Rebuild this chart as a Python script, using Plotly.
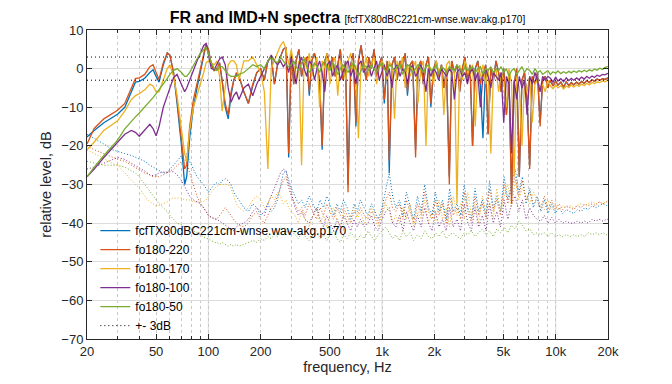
import plotly.graph_objects as go

# ---------- frequency grids ----------
FR_FREQ_HZ = [20, 22, 25, 28, 30, 33, 36, 38, 40, 43,
              46, 48, 50, 52, 55, 58, 60, 63, 66, 70,
              73, 75, 78, 82, 86, 90, 94, 97, 100, 104,
              108, 112, 116, 120, 125, 130, 135, 140, 145, 150,
              160, 170, 180, 190, 200, 210, 220, 230, 240, 250,
              260, 270, 280, 290,
              300, 310, 320, 332, 344, 356, 368, 381, 394, 408,
              422, 437, 452, 468, 484, 501, 519, 537, 556, 575,
              595, 616, 637, 660, 683, 707, 731, 757, 783, 811,
              839, 868, 899, 930, 963, 996, 1030, 1070, 1100, 1140,
              1180, 1220, 1270, 1310, 1360, 1400, 1450, 1500, 1560, 1610,
              1670, 1730, 1790, 1850, 1910, 1980, 2050, 2120, 2200, 2270,
              2350, 2440, 2520, 2610, 2700, 2800, 2900, 3000, 3100, 3210,
              3320, 3440, 3560, 3680, 3810, 3950, 4080, 4230, 4380, 4530,
              4690, 4850, 5020, 5200, 5380, 5570, 5760, 5960, 6170, 6390,
              6610, 6840, 7080, 7330, 7590, 7850, 8130, 8410, 8700, 9010,
              9320, 9650, 9990, 10300, 10700, 11100, 11500, 11900, 12300, 12700,
              13200, 13600, 14100, 14600, 15100, 15600, 16200, 16700, 17300, 17900,
              18600, 19200, 20000]

IMD_FREQ_HZ = [20, 22, 25, 28, 30, 33, 36, 38, 40, 43,
               46, 48, 50, 52, 55, 58, 60, 63, 66, 70,
               73, 75, 78, 82, 86, 90, 94, 97, 100, 104,
               108, 112, 116, 120, 125, 130, 135, 140, 145, 150,
               160, 170, 180, 190, 200, 210, 220, 230, 240, 250,
               260, 270, 280, 290,
               300, 315, 330, 345, 360, 380, 400, 420, 440, 460,
               480, 500, 525, 550, 575, 600, 630, 660, 690, 720,
               750, 790, 830, 870, 910, 950, 1000, 1050, 1100, 1150,
               1200, 1260, 1320, 1380, 1450, 1520, 1600, 1680, 1760, 1850,
               1940, 2030, 2130, 2230, 2340, 2450, 2570, 2700, 2830, 2970,
               3120, 3270, 3430, 3600, 3780, 3970, 4160, 4370, 4580, 4810,
               5050, 5300, 5560, 5840, 6130, 6430, 6750, 7090, 7440, 7810,
               8200, 8600, 9030, 9480, 9950, 10450, 10970, 11500, 12100, 12700,
               13300, 14000, 14700, 15400, 16200, 17000, 17800, 18700, 19600, 20000]

# ---------- frequency responses (dB) ----------
FR_TX80 = [-17.7, -16, -14, -12.5, -11.8, -10, -6, -3.5, -3.3, -2.5,
           -1, -0.3, -2, -3.5, 1, 4, 3.5, -1, -9, -20,
           -30, -28, -18, -10, -5, -1, 3.5, 6.2, 5, 1,
           -0.5, 0, 1.5, -3, -10, -13, -7, -3, -1.5, -2,
           -6, -9, -4.5, -1, 0, -3, 2, 3, -4, 1,
           3, 5, 5.5, -23,
           4, -4, 2, 5, -2, 1, 3, -7, 2, 4,
           1, -3, -21, 2, 4, 0, 3, -2, 1, 5,
           -3, 2, -30, 1, 4, -15, 2, 6, 1, -3,
           3, 0, 5, -2, 1, 3, -9, 2, -27, 1,
           3, -3, 2, 0, 4, -7, 1, 2, -21, 0,
           2, -4, 1, 3, -10, 0, 2, -2, 1, -5,
           0, -28, 2, -1, 1, -6, 0, 3, -3, 1,
           -20, 0, 2, -4, -18, 1, -17, 0, -3, 2,
           -1, -6, 0, -12, -2, -33, -4, 0, -28, -3,
           -1, -8, -25, -2, -4, -1, -14, -3, -2, -5,
           -3, -4.5, -3.2, -4.3, -3.5, -4.8, -3.4, -4.4, -3.6, -4.2,
           -3.5, -4, -3.3, -3.8, -3.1, -3.6, -2.9, -3.3, -2.7, -3,
           -2.6, -2.8, -2.4]

FR_FO220 = [-19.5, -15.5, -13, -11.5, -10.8, -9, -5, -2.6, -2.4, -1.5,
            0.5, 1.0, -1.0, -2.8, 1.5, 4.1, 3.5, -1, -8, -18,
            -26, -25, -15, -8, -4, 0, 4, 6.5, 5, 1,
            -0.5, 0, 1.5, -3, -9, -12, -6, -3, -1, -2,
            -6, -9, -4, -1, 0, -3, 2, 3, -4, 1,
            3, 5, 5.5, -22,
            4, -4, 2, 5, -2, 1, 3, -6, 2, 4,
            1, -3, -20, 2, 4, 0, 3, -2, 1, 5,
            -3, 2, -32, 1, 4, -14, 2, 6, 1, -3,
            3, 0, 5, -2, 1, 3, -8, 2, -24, 1,
            3, -3, 2, 0, 4, -6, 1, 2, -23, 0,
            2, -4, 1, 3, -9, 0, 2, -2, 1, -5,
            0, -30, 2, -1, 1, -6, 0, 3, -3, 1,
            -20, 0, 2, -4, -1, 1, -17, 0, -3, 2,
            -1, -6, 0, -12, -2, -35, -4, 0, -28, -3,
            -1, -8, -26, -2, -4, -1, -15, -3, -2, -5,
            -3, -4.5, -3.2, -4.3, -3.5, -4.8, -3.4, -4.4, -3.6, -4.2,
            -3.5, -4, -3.3, -3.8, -3.1, -3.6, -2.9, -3.3, -2.7, -3,
            -2.6, -2.8, -2.4]

FR_FO170 = [-21, -19, -16, -14.5, -13.5, -11, -8, -7, -6.5, -5.5,
            -4, -4.5, -6, -6, -3, 0, 1, -2, -7, -15,
            -22, -24, -16, -10, -7, -4, -1, 1.5, 2, 1.5,
            1, 2, -2, -11, -5, 1, 2, 2, 1, -3,
            2, 2, 3, 1, -1, -6, -26, 0, 2, 4,
            6, 7, 5, 1,
            5, 1, -3, 2, -25, 3, 0, 4, -2, 1,
            3, -10, 2, 0, 4, -4, 1, 3, -7, 2,
            0, -3, 2, 4, -1, 1, -18, 2, 0, 3,
            -2, 1, 3, -4, 0, 2, 1, -3, 2, 0,
            -13, 2, 0, 3, -5, 1, -2, 0, 2, -9,
            0, 2, -20, 1, 0, -4, 2, -1, 0, -12,
            1, 2, -2, 0, -35, 1, -3, 2, 0, -2,
            1, -15, 0, -2, 1, -4, 0, -22, -1, 0,
            -6, -1, -3, -10, 0, -4, -28, -2, -5, -20,
            -3, -6, -2, -14, -4, -3, -5, -4, -6, -3,
            -4.5, -5.2, -4.2, -5, -4.4, -5.3, -4.5, -4.9, -4.2, -4.8,
            -4.2, -4.6, -4, -4.4, -3.8, -4.2, -3.6, -3.9, -3.4, -3.6,
            -3.2, -3.4, -3]

FR_FO100 = [-28, -26, -23, -20.5, -19, -17, -16, -16.5, -17.5, -16,
            -14.4, -15.5, -17.4, -15, -10, -7, -5, -2.3, -1.5, -4,
            -6, -5, -3, 0, 2, 4, 6, 6.5, 4, 0,
            -0.3, 1, 2.5, 3, 1, -5, -8.7, -7, -6, -8,
            -5, -4, -7, -4, -2, 0, 2, 3.5, 2, 1,
            2, 0.5, 1.5, -1,
            3, -1, -4, 1, 3, 0, -2, 2, 1, -3,
            0, 2, -1, -6, 1, 2, -2, 0, 1, -3,
            -1, 1, 2, -2, 0, -4, 1, 2, -1, 0,
            1, -2, 0, 2, -3, -1, 1, -2, 0, -5,
            0, 1, -2, 0, -1, -4, 0, 1, -2, -1,
            1, -1, -6, 0, -2, 0, -1, -3, 0, -1,
            -2, 0, -1, -8, -1, 0, -2, -1, -4, -1,
            0, -3, -1, -10, -2, 0, -2, -5, -1, -2,
            -3, -1, -14, -2, -4, -22, -3, -8, -2, -5,
            -3, -12, -2, -4, -1, -3, -6, -2, -3, -2,
            -2.5, -3.5, -2.2, -3.2, -2.6, -3.4, -2.4, -3.1, -2.5, -3,
            -2.4, -2.9, -2.2, -2.7, -2, -2.5, -1.9, -2.3, -1.7, -2,
            -1.5, -1.6, -1.2]

FR_FO50 = [-28, -25.5, -22.5, -20, -18.5, -15.6, -13.5, -12.5, -11.5, -10,
           -8.5, -7.5, -6.5, -5.5, -4, -2.5, -1.5, -0.5, 0, -1,
           -2, -2, -1, 1, 2.5, 4, 5, 5.5, 4, 1.5,
           0, -0.5, 0.5, 0.5, -0.5, -1.5, -2, -2, -2, -1.5,
           -1, 0, 1, 0.5, 1, 0, 2, 3, 2, 1.5,
           3, 2, 1, 0.5,
           1, 2, 0.5, -0.5, 1.5, 2.5, 1, -1, 0, 1.5,
           0.5, -1, 1, 2, 0, -0.5, 1.5, 0.5, -1.5, 0,
           1, 0, -1, 0.5, 1.5, 0, -2, -0.5, 1, 0.5,
           -0.5, 1, 0, -1, 0.5, 1.5, 0, -1, 1, 0.5,
           -0.5, 0.5, 1, -1.5, 0, 1, 0.5, -1, 0, 1,
           0, -1, 0.5, 1, -0.5, 0, 1, -1.5, 0.5, 0,
           -1, 0.5, 0, -0.5, 1, 0, -1, 0.5, -0.5, 0,
           0.5, -1, 0, 0.5, -1.5, 0, -0.5, 0.5, -1, 0,
           -0.5, 0.5, -1, 0, -2, -0.5, 0, -1.5, -0.5, 0.5,
           -1, 0, -0.5, -1.5, 0, -1, -0.5, -1.5, -1, -0.5,
           -1.5, -0.8, -1.2, -0.6, -1.3, -0.8, -1.2, -0.7, -1.1, -0.6,
           -1, -0.5, -0.9, -0.4, -0.8, -0.3, -0.6, -0.1, -0.4, 0.1,
           -0.2, 0.3, 0.5]

# ---------- IMD+N spectra (dB) ----------
IMD_TX80 = [-17, -18, -19.5, -21, -21.5, -22, -22.5, -23, -23.5, -24,
            -25, -25.5, -26, -26.5, -27, -27, -26, -25, -24, -22.5,
            -21.5, -22, -24, -26, -28, -29, -30, -31, -32, -31,
            -30, -29.5, -30, -29, -28.5, -29, -30, -32, -33, -34,
            -36, -37, -35, -36, -38, -37, -35, -37, -36, -34,
            -30, -27, -26.5, -29,
            -31, -33, -35, -34, -36, -33, -35, -37, -34, -36,
            -33, -35, -38, -35, -37, -34, -36, -39, -35, -37,
            -34, -36, -38, -35, -37, -39, -36, -31, -27, -33,
            -36, -34, -38, -32, -36, -39, -33, -37, -30, -36,
            -38, -32, -37, -34, -39, -31, -37, -35, -38, -30,
            -36, -39, -31, -37, -34, -38, -29, -36, -33, -37,
            -28, -34, -30, -26, -32, -28, -35, -31, -36, -33,
            -37, -34, -37.5, -35, -37.5, -36, -37.5, -36.5, -37, -37.5,
            -36.5, -37, -36, -36.5, -35.5, -36, -35.5, -35, -35.5, -35]

IMD_FO220 = [-20, -21, -22, -23, -23.5, -24, -25, -25.5, -26, -27,
             -27.5, -28, -28, -28, -27.5, -27, -26.5, -26, -25, -24,
             -23.5, -24, -27, -30, -33, -35, -36, -37, -38, -38.5,
             -39, -39, -38, -37, -36, -37, -38, -39, -40, -40.5,
             -41, -40, -38, -37, -39, -40, -38, -36, -35, -33,
             -31, -29, -28, -31,
             -33, -35, -37, -36, -38, -35, -37, -39, -36, -38,
             -35, -37, -39, -36, -38, -36, -38, -40, -37, -38,
             -36, -38, -39, -37, -38, -40, -37, -34, -32, -36,
             -37, -35, -39, -34, -37, -40, -35, -38, -32, -37,
             -39, -34, -38, -35, -40, -33, -38, -36, -39, -32,
             -37, -40, -33, -38, -35, -39, -31, -37, -34, -38,
             -30, -35, -31, -28, -33, -29, -34, -32, -35, -34,
             -36, -33, -36.5, -34, -36.5, -35, -36.5, -35.5, -36, -36.5,
             -35.5, -36, -35, -35.5, -35, -35.5, -34.5, -35, -34.5, -34.5]

IMD_FO170 = [-21, -22, -23.5, -24.5, -25, -27, -29, -30, -31, -33,
             -34.5, -35, -35.5, -35.5, -35, -34.5, -34, -33.5, -33.5, -33.5,
             -34, -34, -34, -34.5, -34.5, -34.5, -34.4, -34, -33, -32,
             -31, -30.5, -30, -30, -30, -30, -31, -33, -35, -36,
             -37, -36, -34, -33, -34, -36, -35, -33, -34, -32,
             -33, -35, -34, -36,
             -37, -38, -40, -37, -39, -41, -38, -36, -40, -38,
             -41, -38, -36, -39, -41, -37, -40, -38, -36, -39,
             -37, -40, -38, -36, -39, -41, -38, -35, -37, -40,
             -38, -40, -36, -39, -35, -41, -37, -39, -34, -40,
             -37, -40, -34, -39, -36, -41, -33, -38, -35, -39,
             -32, -38, -35, -40, -33, -37, -35, -39, -31, -37,
             -33, -30, -36, -29, -34, -31, -33, -35, -32, -34,
             -35, -36.5, -34, -36.5, -35, -36.5, -35.5, -36, -35.5, -36,
             -35.5, -35, -35.5, -35, -34.5, -35, -34.5, -35, -34.5, -34]

IMD_FO100 = [-26, -25.5, -24.5, -23.5, -23, -23.5, -24.5, -25, -25.5, -26.5,
             -27.5, -27.7, -27.5, -27, -26.8, -26.7, -26.7, -26.7, -27.5, -29,
             -30.5, -31.5, -33, -34, -34.5, -35, -36, -37, -38, -38.5,
             -38.7, -39, -39.5, -40, -40.5, -41, -41.5, -42, -41, -40.5,
             -40, -39, -37, -36, -37, -38, -35, -33, -31, -29,
             -27, -26, -26.4, -30,
             -32, -36, -38, -37, -39, -40, -38, -36, -39, -41,
             -38, -40, -42, -39, -41, -38, -40, -42, -39, -41,
             -39, -41, -40, -38, -41, -42, -39, -37, -36, -40,
             -41, -38, -42, -37, -40, -42, -38, -41, -36, -40,
             -42, -37, -41, -39, -42, -36, -41, -39, -42, -35,
             -40, -42, -36, -41, -38, -42, -35, -40, -37, -41,
             -34, -39, -35, -33, -37, -34, -39, -36, -38, -39,
             -39.5, -38, -40, -38.5, -40, -39, -40, -39.5, -40, -40,
             -39.5, -40, -39.5, -40, -39, -39.5, -39, -39.5, -39, -39]

IMD_FO50 = [-24, -24.5, -25, -25, -25, -25.5, -26.5, -27, -28, -30,
            -32, -33, -34, -35, -36, -37, -38, -39, -40, -40.5,
            -41, -41, -41.5, -42, -42.5, -43, -43.5, -44, -44, -44.5,
            -45, -45, -45.5, -45, -45.5, -46, -45.5, -46, -45.5, -46,
            -45.5, -45, -44.5, -45, -44, -44.5, -43.5, -44, -43, -43.5,
            -42.5, -43, -42, -42.5,
            -42, -43, -44, -42.5, -43.5, -44.5, -43, -42, -44, -43,
            -44.5, -43, -42, -44, -45, -43, -44, -42.5, -43.5, -44.5,
            -43, -44, -42, -43.5, -44.5, -43, -42, -41, -42.5, -44,
            -43, -44.5, -42, -43.5, -42.5, -44.5, -43, -44, -42, -43.5,
            -44, -42.5, -43.5, -42, -44, -43, -42.5, -43.5, -44, -42.5,
            -43, -42, -43.5, -42.5, -41.5, -43, -42, -43.5, -41.5, -42.5,
            -41, -42.5, -40.5, -41.5, -39.5, -40.5, -42, -41.5, -43, -42.5,
            -43, -42.5, -43.5, -42.5, -43.5, -43, -43.5, -43, -43.5, -43,
            -43.5, -43, -43.5, -42.5, -43, -42.5, -43, -42.5, -43, -42.8]

SERIES_NAMES = ["fcfTX80dBC221cm-wnse.wav-akg.p170", "fo180-220", "fo180-170",
                "fo180-100", "fo180-50"]
FR_DATA = [FR_TX80, FR_FO220, FR_FO170, FR_FO100, FR_FO50]
IMD_DATA = [IMD_TX80, IMD_FO220, IMD_FO170, IMD_FO100, IMD_FO50]
COLORS = ["#0072BD", "#D95319", "#EDB120", "#7E2F8E", "#77AC30"]
LIMITS_DB = [3, -3]
LIMIT_NAME = "+- 3dB"

X_TICKS = [20, 50, 100, 200, 500, 1000, 2000, 5000, 10000, 20000]
X_TICK_TEXT = ["20", "50", "100", "200", "500", "1k", "2k", "5k", "10k", "20k"]
X_MINOR = [30, 40, 60, 70, 80, 90, 300, 400, 600, 700, 800, 900,
           3000, 4000, 6000, 7000, 8000, 9000]
X_DECADES = [100, 1000, 10000]

FONT = "Liberation Sans, Arial, sans-serif"
INK = "#262626"

fig = go.Figure()

for vals, col in zip(IMD_DATA, COLORS):
    fig.add_trace(go.Scatter(x=IMD_FREQ_HZ, y=vals, mode="lines", showlegend=False,
                             line=dict(color=col, width=1, dash="1px,2px"),
                             hoverinfo="skip"))

for name, vals, col in zip(SERIES_NAMES, FR_DATA, COLORS):
    fig.add_trace(go.Scatter(x=FR_FREQ_HZ, y=vals, mode="lines", name=name,
                             line=dict(color=col, width=1.3)))

lim_x, lim_y = [], []
for lv in LIMITS_DB:
    lim_x += [FR_FREQ_HZ[0], FR_FREQ_HZ[-1], None]
    lim_y += [lv, lv, None]
fig.add_trace(go.Scatter(x=lim_x, y=lim_y, mode="lines", name=LIMIT_NAME,
                         line=dict(color="#000000", width=1, dash="1px,3px")))

for d in X_DECADES:
    fig.add_shape(type="line", xref="x", yref="paper", x0=d, x1=d, y0=0, y1=1,
                  line=dict(color="#dcdcdc", width=1), layer="below")

# the page body has an 8px margin, so the figure is sized to fit inside it
W, H = 664, 376
fig.update_layout(
    width=W, height=H,
    margin=dict(l=79, r=64, t=22, b=42),
    paper_bgcolor="white", plot_bgcolor="white",
    font=dict(family=FONT, size=13, color=INK),
    title=dict(text="<b>FR and IMD+N spectra</b> <span style='font-size:10px'>[fcfTX80dBC221cm-wnse.wav:akg.p170]</span>",
               x=(79 + 600) / 2 / W, xanchor="center", y=1 - 9 / H, yanchor="middle",
               font=dict(family=FONT, size=16, color="#000000")),
    legend=dict(x=0.016, xanchor="left", y=0.197, yanchor="middle",
                bgcolor="rgba(0,0,0,0)", borderwidth=0,
                font=dict(family=FONT, size=12, color="#000000"),
                tracegroupgap=0),
    showlegend=True,
)

fig.update_xaxes(type="log", range=[1.30103, 4.30103],
                 tickvals=X_TICKS, ticktext=X_TICK_TEXT,
                 showgrid=True, gridcolor="#c8c8c8", griddash="dot", gridwidth=1,
                 ticks="inside", ticklen=5, tickcolor=INK,
                 showline=True, linecolor=INK, linewidth=1, mirror="allticks",
                 zeroline=False, tickfont=dict(size=13, color=INK),
                 title=dict(text="frequency, Hz", font=dict(size=14.5, color=INK), standoff=3),
                 minor=dict(tickvals=X_MINOR, ticks="inside", ticklen=3, tickcolor=INK,
                            showgrid=True, gridcolor="#c8c8c8", griddash="dot", gridwidth=1))

fig.update_yaxes(range=[-70, 10], dtick=10, tick0=0,
                 showgrid=True, gridcolor="#dcdcdc", gridwidth=1,
                 ticks="inside", ticklen=5, tickcolor=INK,
                 showline=True, linecolor=INK, linewidth=1, mirror="allticks",
                 zeroline=False, tickfont=dict(size=13, color=INK),
                 title=dict(text="relative level, dB", font=dict(size=14.5, color=INK), standoff=6))

fig.write_html("out.html")
